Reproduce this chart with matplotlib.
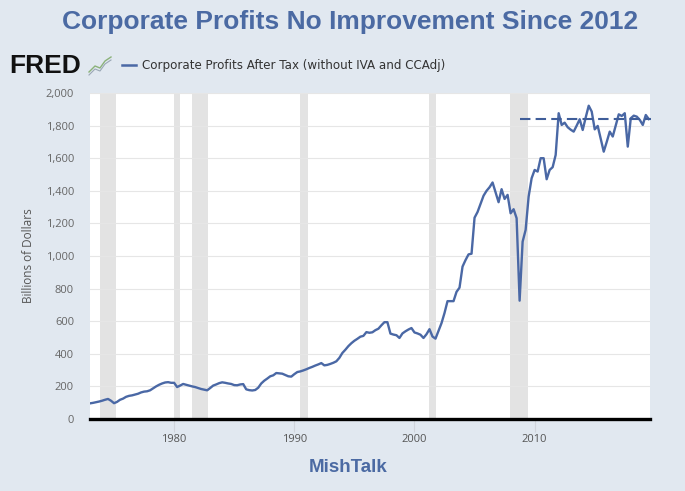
import matplotlib
matplotlib.use("Agg")
import matplotlib.pyplot as plt
import numpy as np
from matplotlib.lines import Line2D

# ---- data (quarterly, billions of dollars, SAAR) ----
start_year = 1973
profits = [
    96, 99, 103, 107,        # 1973
    112, 118, 123, 112,      # 1974
    97, 105, 118, 125,       # 1975
    136, 142, 145, 150,      # 1976
    155, 163, 168, 170,      # 1977
    176, 188, 200, 210,      # 1978
    218, 224, 226, 222,      # 1979
    222, 196, 205, 215,      # 1980
    210, 205, 200, 196,      # 1981
    190, 184, 180, 176,      # 1982
    190, 205, 212, 220,      # 1983
    225, 222, 218, 215,      # 1984
    208, 207, 212, 214,      # 1985
    182, 177, 175, 178,      # 1986
    192, 218, 235, 248,      # 1987
    262, 268, 282, 280,      # 1988
    278, 270, 262, 260,      # 1989
    275, 288, 292, 298,      # 1990
    305, 313, 320, 328,      # 1991
    335, 343, 329, 332,      # 1992
    338, 345, 354, 375,      # 1993
    405, 425, 447, 465,      # 1994
    480, 492, 505, 510,      # 1995
    533, 529, 532, 545,      # 1996
    554, 575, 594, 594,      # 1997
    524, 518, 514, 497,      # 1998
    525, 538, 549, 558,      # 1999
    531, 525, 517, 497,      # 2000
    520, 551, 506, 493,      # 2001
    540, 588, 650, 723,      # 2002
    723, 723, 780, 806,      # 2003
    935, 975, 1010, 1014,    # 2004
    1235, 1270, 1320, 1370,  # 2005
    1400, 1422, 1451, 1390,  # 2006
    1330, 1410, 1350, 1375,  # 2007
    1262, 1287, 1232, 726,   # 2008
    1088, 1160, 1364, 1477,  # 2009
    1528, 1518, 1600, 1600,  # 2010
    1471, 1528, 1545, 1620,  # 2011
    1876, 1804, 1818, 1790,  # 2012
    1775, 1763, 1800, 1839,  # 2013
    1773, 1850, 1922, 1886,  # 2014
    1777, 1798, 1720, 1640,  # 2015
    1700, 1763, 1733, 1800,  # 2016
    1869, 1859, 1876, 1671,  # 2017
    1845, 1861, 1855, 1835,  # 2018
    1804, 1865, 1840,        # 2019
]
recession_starts = [1973.83, 1980.0, 1981.5, 1990.5, 2001.17, 2007.92]
recession_ends = [1975.17, 1980.5, 1982.83, 1991.17, 2001.83, 2009.42]
plateau_level = 1840
plateau_start = 2008.8
x_ticks = [1980, 1990, 2000, 2010]
y_ticks = list(range(0, 2001, 200))

title = "Corporate Profits No Improvement Since 2012"
series_name = "Corporate Profits After Tax (without IVA and CCAdj)"
y_label = "Billions of Dollars"
footer = "MishTalk"

# ---- derived ----
dates = start_year + np.arange(len(profits)) / 4.0

BG = "#e1e8f0"
LINE = "#4a68a5"
TITLE_C = "#4b6aa3"

fig = plt.figure(figsize=(6.85, 4.91), dpi=100, facecolor=BG)
ax = fig.add_axes([90 / 685, 1 - 419 / 491, 560 / 685, 326 / 491])
ax.set_facecolor("white")

for s, e in zip(recession_starts, recession_ends):
    ax.axvspan(s, e, color="#e3e3e3", lw=0, zorder=0)

for yv in y_ticks[1:]:
    ax.axhline(yv, color="#e6e6e6", lw=0.8, zorder=0.5)

ax.plot(dates, profits, color=LINE, lw=1.7, zorder=3, solid_joinstyle="round")

xmin, xmax = 1973.0, 2019.6
ax.hlines(plateau_level, plateau_start, xmax + 0.1, colors="#3f5d99",
          linestyles=(0, (5, 2.5)), lw=1.5, zorder=4, clip_on=False)

ax.set_xlim(xmin, xmax)
ax.set_ylim(0, 2000)
ax.set_xticks(x_ticks)
ax.set_xticklabels([str(t) for t in x_ticks])
ax.set_yticks(y_ticks)
ax.set_yticklabels([f"{v:,}" for v in y_ticks])

for sp in ["top", "right", "left"]:
    ax.spines[sp].set_visible(False)
ax.spines["bottom"].set_color("black")
ax.spines["bottom"].set_linewidth(2.4)

ax.tick_params(axis="y", length=0, pad=11.5, labelsize=8, labelcolor="#666666")
ax.tick_params(axis="x", length=9, width=0.8, color="#d0d5dc", direction="out",
               pad=2, labelsize=8, labelcolor="#555555")
for lab in ax.get_xticklabels() + ax.get_yticklabels():
    lab.set_fontfamily("Open Sans")

ax.set_ylabel(y_label, fontsize=8.5, color="#555555", fontfamily="Open Sans",
              labelpad=8)

# title
fig.text(0.511, 1 - 22 / 491, title, ha="center", va="center", fontsize=19,
         fontweight="bold", color=TITLE_C, fontfamily="Liberation Sans")

# FRED logo
fig.text(9 / 685, 1 - 66 / 491, "FRED", ha="left", va="center", fontsize=19,
         fontweight="bold", color="#111111", fontfamily="Liberation Sans")
icon_x = np.array([89, 95, 100, 105, 111]) / 685
icon_y = 1 - np.array([72, 66, 68, 61, 57]) / 491
fig.add_artist(Line2D(icon_x, icon_y, color="#8bb27a", lw=1.0))
fig.add_artist(Line2D(icon_x, icon_y - 3 / 491, color="#9aa7b5", lw=0.8))

# legend
fig.add_artist(Line2D([122 / 685, 136 / 685], [1 - 65 / 491, 1 - 65 / 491],
                      color=LINE, lw=1.8))
fig.text(142 / 685, 1 - 65 / 491, series_name, ha="left", va="center",
         fontsize=8.6, color="#333333", fontfamily="Liberation Sans Narrow")

# footer
fig.text(0.508, 1 - 467 / 491, footer, ha="center", va="center", fontsize=13.5,
         fontweight="bold", color=TITLE_C, fontfamily="Liberation Sans")

fig.savefig("out.png", dpi=100, facecolor=BG)
